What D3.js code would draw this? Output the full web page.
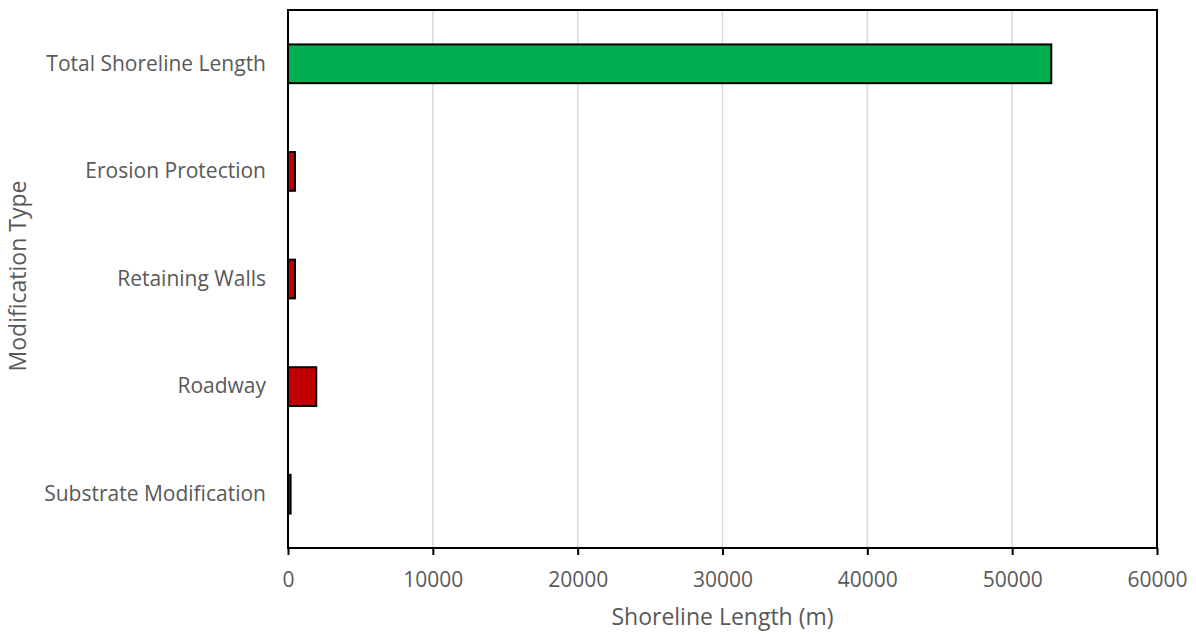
<!DOCTYPE html>
<html>
<head>
<meta charset="utf-8">
<script src="https://cdn.jsdelivr.net/npm/d3@7"></script>
<style>
  html, body { margin: 0; padding: 0; background: #fff; }
  svg { display: block; font-family: "Open Sans", sans-serif; }
</style>
</head>
<body>
<svg id="chart" width="1196" height="634"></svg>
<script>
// Shoreline modification lengths (m)
const categories = ["Total Shoreline Length", "Erosion Protection", "Retaining Walls", "Roadway", "Substrate Modification"];
const lengths = [52700, 480, 480, 1950, 180];
const barColors = ["#00b050", "#c00000", "#c00000", "#c00000", "#c00000"];
const xTicks = [0, 10000, 20000, 30000, 40000, 50000, 60000];

const svg = d3.select("#chart");
const margin = { top: 10, right: 39, bottom: 86, left: 288 };
const W = 1196, H = 634;
const iw = W - margin.left - margin.right;
const ih = H - margin.top - margin.bottom;

const g = svg.append("g").attr("transform", `translate(${margin.left},${margin.top})`);

const x = d3.scaleLinear().domain([0, 60000]).range([0, iw]);
const y = d3.scaleBand().domain(categories).range([0, ih]).paddingInner(0.64).paddingOuter(0.32);

// vertical gridlines
g.append("g").selectAll("line").data(xTicks.slice(1, -1)).join("line")
  .attr("x1", d => x(d)).attr("x2", d => x(d))
  .attr("y1", 0).attr("y2", ih)
  .attr("stroke", "#d9d9d9").attr("stroke-width", 1.5);

// bars
g.append("g").selectAll("rect").data(categories).join("rect")
  .attr("x", x(0))
  .attr("y", d => y(d))
  .attr("width", (d, i) => x(lengths[i]) - x(0))
  .attr("height", y.bandwidth())
  .attr("fill", (d, i) => barColors[i])
  .attr("stroke", "#000").attr("stroke-width", 2);

// plot frame
g.append("rect").attr("x", 0).attr("y", 0).attr("width", iw).attr("height", ih)
  .attr("fill", "none").attr("stroke", "#000").attr("stroke-width", 2);

// x axis
const xAxis = g.append("g").attr("transform", `translate(0,${ih})`)
  .call(d3.axisBottom(x).tickValues(xTicks).tickFormat(d3.format("d")).tickSize(7).tickPadding(17));
xAxis.select(".domain").remove();
xAxis.selectAll(".tick line").attr("stroke", "#000").attr("stroke-width", 2);
xAxis.selectAll(".tick text").attr("fill", "#595959").style("font-size", "21px")
  .style("font-family", "'Open Sans', sans-serif");

// y axis
const yAxis = g.append("g")
  .call(d3.axisLeft(y).tickSize(0).tickPadding(22));
yAxis.select(".domain").remove();
yAxis.selectAll(".tick text").attr("fill", "#595959").style("font-size", "21px")
  .style("font-family", "'Open Sans', sans-serif");

// axis titles
svg.append("text")
  .attr("x", margin.left + iw / 2).attr("y", 625)
  .attr("text-anchor", "middle").attr("fill", "#595959")
  .style("font-size", "23px")
  .text("Shoreline Length (m)");

svg.append("text")
  .attr("transform", `translate(26,276) rotate(-90)`)
  .attr("text-anchor", "middle").attr("fill", "#595959")
  .style("font-size", "23px")
  .text("Modification Type");
</script>
</body>
</html>
